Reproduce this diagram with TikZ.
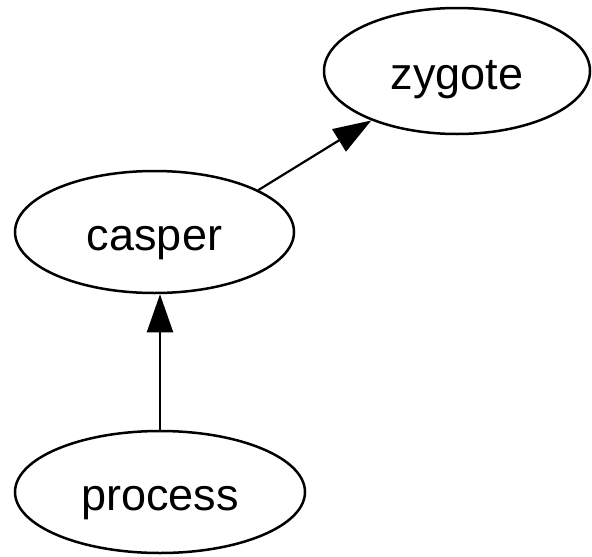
\documentclass[tikz,border=0pt]{standalone}
\usepackage{fontspec}
\setmainfont{Liberation Sans}
\usetikzlibrary{arrows.meta,shapes.geometric}
\begin{document}
\begin{tikzpicture}[x=1pt,y=1pt,
  state/.style={ellipse,draw=black,line width=2.5pt,inner sep=0pt,
    text height=37.4pt,text depth=0pt,
    font=\fontsize{45}{54}\selectfont},
  link/.style={line width=2.2pt,-{Triangle[length=38pt,width=26pt]}}]
  \useasboundingbox[fill=white] (0,0) rectangle (592,-557);
  \node[state,minimum width=266pt,minimum height=126pt] (zygote) at (457,-71) {zygote};
  \node[state,minimum width=279pt,minimum height=122pt] (casper) at (154.5,-232) {casper};
  \node[state,minimum width=290pt,minimum height=122pt] (process) at (160,-492) {process};
  \draw[link] (casper.22.7) -- (zygote.210);
  \draw[link] (process.north) -- (process.north |- casper.south);
\end{tikzpicture}
\end{document}
